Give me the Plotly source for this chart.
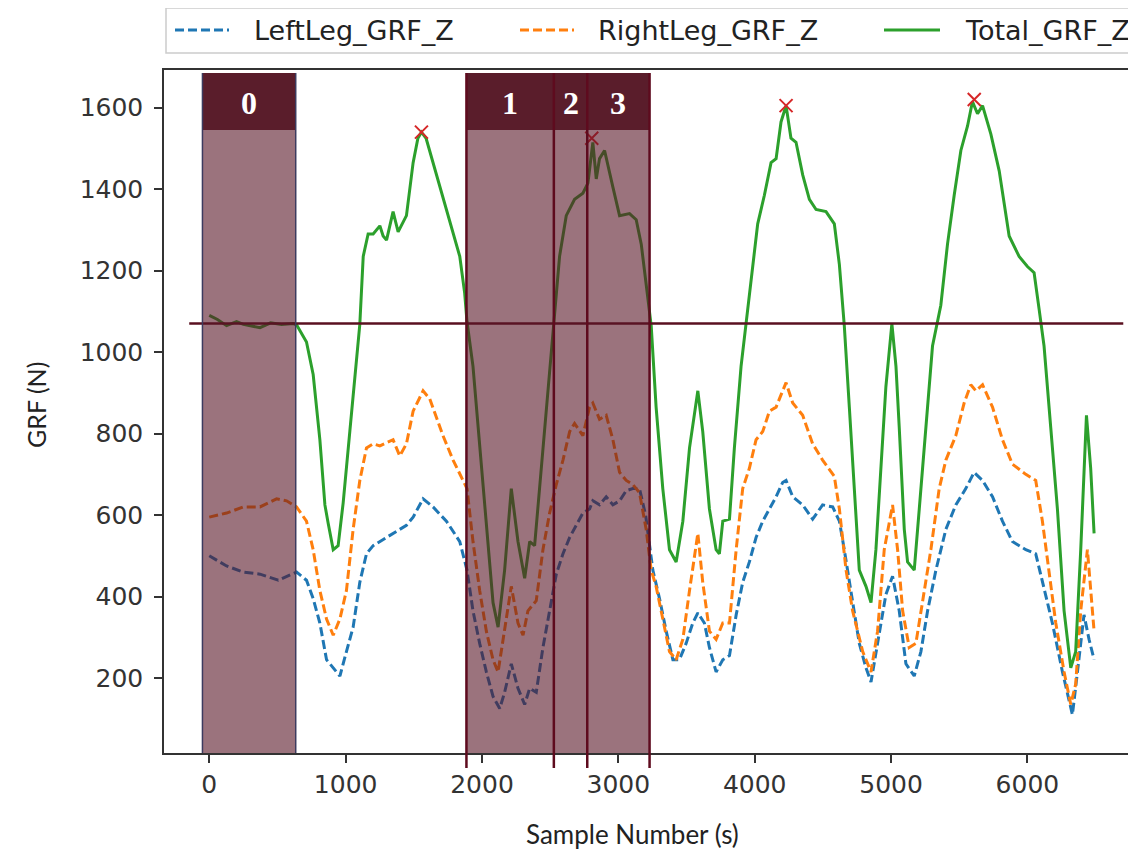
import plotly.graph_objects as go

# ---------------- data ----------------
total_x = [0, 60, 127, 200, 250, 372, 450, 530, 616, 640, 713, 762, 811, 848, 872, 909, 945, 982,
           1031, 1080, 1104, 1129, 1165, 1202, 1251, 1275, 1300, 1348, 1385, 1446, 1495, 1530, 1556,
           1590, 1641, 1739, 1837, 1873, 1890, 1934, 1983, 2032, 2081, 2118, 2166, 2215, 2264, 2313,
           2350, 2386, 2423, 2472, 2528, 2569, 2618, 2679, 2740, 2777, 2813, 2838, 2862, 2899, 2960,
           3009, 3082, 3131, 3168, 3204, 3241, 3277, 3326, 3375, 3424, 3473, 3522, 3583, 3619, 3668,
           3717, 3741, 3766, 3815, 3851, 3900, 3937, 3986, 4022, 4071, 4120, 4157, 4193, 4230, 4266,
           4303, 4352, 4401, 4450, 4523, 4584, 4621, 4657, 4694, 4730, 4767, 4816, 4853, 4889, 4926,
           4962, 5006, 5036, 5060, 5097, 5121, 5170, 5207, 5255, 5304, 5365, 5414, 5463, 5512, 5561,
           5597, 5634, 5671, 5732, 5793, 5866, 5939, 6000, 6049, 6086, 6122, 6171, 6220, 6269, 6318,
           6354, 6391, 6433, 6464, 6489]
total_y = [1090, 1080, 1065, 1075, 1068, 1060, 1072, 1068, 1070, 1067, 1025, 945, 785, 625, 580, 515, 525, 630,
           806, 981, 1068, 1235, 1290, 1290, 1310, 1285, 1275, 1345, 1295, 1335, 1465, 1525, 1540,
           1525, 1465, 1355, 1235, 1145, 1075, 965, 765, 565, 385, 325, 465, 665, 535, 445,
           535, 525, 665, 865, 1065, 1235, 1335, 1375, 1390, 1415, 1515, 1425, 1475, 1495, 1405,
           1335, 1340, 1325, 1265, 1165, 1065, 865, 665, 515, 485, 585, 765, 905, 805, 615,
           515, 505, 585, 590, 765, 965, 1075, 1215, 1315, 1385, 1465, 1475, 1565, 1605, 1525,
           1515, 1435, 1375, 1350, 1345, 1315, 1215, 1065, 865, 665, 465, 425, 385, 515, 715,
           915, 1070, 965, 815, 565, 485, 465, 615, 815, 1015, 1115, 1265, 1385, 1495, 1555,
           1615, 1585, 1605, 1535, 1445, 1285, 1235, 1210, 1195, 1105, 1015, 815, 615, 365, 225,
           265, 515, 845, 715, 555]

right_x = [0, 127, 250, 372, 494, 567, 640, 713, 762, 811, 860, 909, 958, 1006, 1055, 1104, 1153, 1202,
           1251, 1348, 1397, 1446, 1495, 1568, 1617, 1714, 1788, 1837, 1890, 1934, 1983, 2032, 2081,
           2118, 2166, 2215, 2264, 2301, 2337, 2398, 2447, 2496, 2545, 2594, 2643, 2679, 2740, 2789,
           2813, 2862, 2911, 2960, 3009, 3058, 3106, 3155, 3204, 3241, 3277, 3326, 3375, 3424, 3473,
           3522, 3583, 3619, 3668, 3717, 3766, 3815, 3864, 3912, 3961, 4010, 4059, 4108, 4157, 4193,
           4230, 4279, 4352, 4425, 4498, 4584, 4621, 4670, 4718, 4792, 4853, 4901, 4950, 5011, 5048,
           5085, 5133, 5182, 5231, 5292, 5353, 5402, 5475, 5536, 5585, 5622, 5671, 5744, 5817, 5890,
           5988, 6061, 6110, 6159, 6208, 6269, 6318, 6354, 6391, 6440, 6489]
right_y = [595, 605, 620, 620, 640, 635, 620, 585, 515, 415, 345, 305, 345, 415, 565, 685, 765, 775,
           770, 785, 745, 775, 855, 905, 885, 795, 735, 700, 665, 535, 415, 315, 245,
           215, 315, 425, 335, 305, 365, 390, 515, 605, 675, 735, 805, 825, 795, 865,
           875, 835, 845, 785, 705, 685, 675, 655, 565, 465, 425, 345, 265, 245, 295,
           415, 555, 435, 315, 295, 335, 335, 515, 665, 715, 785, 805, 855, 865, 895,
           925, 875, 845, 775, 735, 695, 615, 465, 365, 265, 215, 315, 515, 625, 515,
           365, 275, 285, 385, 515, 665, 735, 795, 875, 920, 905, 920, 865, 785, 725,
           700, 685, 585, 465, 335, 215, 135, 185, 365, 515, 315]

left_x = [0, 127, 250, 372, 506, 567, 640, 713, 762, 811, 860, 909, 958, 1006, 1055, 1104, 1153, 1202,
          1251, 1348, 1446, 1495, 1568, 1641, 1739, 1837, 1873, 1890, 1934, 1983, 2032, 2081, 2130,
          2166, 2215, 2264, 2313, 2350, 2398, 2447, 2496, 2545, 2594, 2643, 2691, 2740, 2789, 2813,
          2862, 2911, 2960, 3009, 3058, 3106, 3155, 3200, 3253, 3302, 3351, 3400, 3448, 3497, 3546,
          3583, 3631, 3668, 3717, 3766, 3815, 3864, 3912, 3961, 4010, 4059, 4108, 4157, 4205, 4230,
          4279, 4352, 4425, 4498, 4572, 4621, 4657, 4706, 4767, 4816, 4853, 4901, 4962, 5011, 5060,
          5109, 5170, 5219, 5268, 5329, 5402, 5475, 5548, 5609, 5671, 5744, 5817, 5890, 5988, 6061,
          6110, 6183, 6257, 6330, 6367, 6415, 6452, 6489]
left_y = [500, 475, 460, 455, 440, 450, 460, 440, 395, 335, 245, 225, 205, 265, 325, 435, 505, 525,
          535, 555, 575, 595, 640, 620, 585, 535, 485, 465, 365, 285, 215, 155, 125,
          165, 235, 175, 135, 175, 165, 275, 365, 455, 505, 545, 575, 605, 615, 635,
          625, 645, 625, 635, 660, 665, 665, 600, 465, 395, 315, 245, 245, 285, 335,
          360, 335, 275, 215, 245, 255, 355, 435, 485, 545, 585, 615, 645, 680, 685,
          645, 625, 590, 625, 620, 585, 515, 415, 285, 225, 190, 285, 405, 450, 365,
          235, 205, 265, 365, 465, 565, 625, 665, 705, 685, 645, 585, 535, 515, 505,
          435, 335, 215, 110, 215, 355, 295, 245]

peak_x = [1556, 2805, 4230, 5610]
peak_y = [1540, 1525, 1605, 1620]

threshold_y = 1070
threshold_x = [-147, 6703]

region0_edges = [-50, 634]
phase_edges = [1886, 2527, 2772, 3229]
region_labels = ["0", "1", "2", "3"]
header_y = [1545, 1685]

x_range = [-332, 6833]
y_range = [16, 1692.5]
x_ticks = [0, 1000, 2000, 3000, 4000, 5000, 6000]
y_ticks = [200, 400, 600, 800, 1000, 1200, 1400, 1600]

series_names = ["LeftLeg_GRF_Z", "RightLeg_GRF_Z", "Total_GRF_Z"]
series_colors = ["#1f77b4", "#ff7f0e", "#2ca02c"]
series_dash = ["9px,4px", "9px,4px", "solid"]

# ---------------- layout geometry ----------------
# the page body adds an 8px offset; screen positions are converted to figure positions
OFF = 8
W, H = 1136, 855
ML, MR, MT, MB = 164 - OFF, 3, 70 - OFF, 855 - (753 - OFF)
PW, PH = W - ML - MR, H - MT - MB


def px_x(px):
    return (px - OFF - ML) / PW


def px_y(py):
    return (H - MB - (py - OFF)) / PH


def data_to_paper_y(v):
    return (v - y_range[0]) / (y_range[1] - y_range[0])


fig = go.Figure()

for xs, ys, nm, col, dsh in zip([left_x, right_x, total_x], [left_y, right_y, total_y],
                                series_names, series_colors, series_dash):
    fig.add_trace(go.Scatter(x=xs, y=ys, mode="lines", name=nm, showlegend=False,
                             line=dict(color=col, width=3, dash=dsh)))
fig.add_trace(go.Scatter(x=peak_x, y=peak_y, mode="markers", showlegend=False,
                         marker=dict(symbol="x-thin", size=13, line=dict(color="#d62728", width=2))))
fig.add_trace(go.Scatter(x=threshold_x, y=[threshold_y, threshold_y], mode="lines", showlegend=False,
                         line=dict(color="#5a1020", width=2.5)))

FILL = "rgba(88,22,38,0.6)"
HEAD = "#5a1d2b"
EDGE0 = "#3c3b5f"
EDGE = "#5e0b1e"

shapes = []
# region 0
shapes.append(dict(type="rect", xref="x", yref="paper", x0=region0_edges[0], x1=region0_edges[1],
                   y0=0, y1=data_to_paper_y(header_y[0]),
                   fillcolor=FILL, line=dict(width=0), layer="above"))
shapes.append(dict(type="rect", xref="x", yref="y", x0=region0_edges[0], x1=region0_edges[1],
                   y0=header_y[0], y1=header_y[1], fillcolor=HEAD, line=dict(width=0), layer="above"))
for xe in region0_edges:
    shapes.append(dict(type="line", xref="x", yref="paper", x0=xe, x1=xe, y0=0,
                       y1=data_to_paper_y(header_y[1]),
                       line=dict(color=EDGE0, width=1.5), layer="above"))
# phases 1-3
shapes.append(dict(type="rect", xref="x", yref="paper", x0=phase_edges[0], x1=phase_edges[-1],
                   y0=0, y1=data_to_paper_y(header_y[0]),
                   fillcolor=FILL, line=dict(width=0), layer="above"))
shapes.append(dict(type="rect", xref="x", yref="y", x0=phase_edges[0], x1=phase_edges[-1],
                   y0=header_y[0], y1=header_y[1], fillcolor=HEAD, line=dict(width=0), layer="above"))
for xe in phase_edges:
    shapes.append(dict(type="line", xref="x", yref="paper", x0=xe, x1=xe, y0=-0.022,
                       y1=data_to_paper_y(header_y[1]),
                       line=dict(color=EDGE, width=2.5), layer="above"))

annotations = []
centers = [(region0_edges[0] + region0_edges[1]) / 2] + \
          [(phase_edges[i] + phase_edges[i + 1]) / 2 for i in range(3)]
for cx, lab in zip(centers, region_labels):
    annotations.append(dict(x=cx, y=(header_y[0] + header_y[1]) / 2 - 3, xref="x", yref="y",
                            text="<b>" + lab + "</b>", showarrow=False,
                            font=dict(family="Liberation Serif", size=32, color="white"),
                            xanchor="center", yanchor="middle"))

# axis titles
annotations.append(dict(x=px_x(36), y=px_y(405), xref="paper", yref="paper", text="GRF (N)",
                        textangle=-90, showarrow=False, xanchor="center", yanchor="middle",
                        font=dict(family="Lato", size=25, color="#222")))
annotations.append(dict(x=px_x(632), y=px_y(834), xref="paper", yref="paper", text="Sample Number (s)",
                        showarrow=False, xanchor="center", yanchor="middle",
                        font=dict(family="Lato", size=26, color="#222")))

# legend (drawn above the plot, running off the right edge like the reference)
shapes.append(dict(type="rect", xref="paper", yref="paper", x0=px_x(166), x1=px_x(1150),
                   y0=px_y(53), y1=px_y(8), line=dict(color="#cccccc", width=1.5),
                   fillcolor="white", layer="above"))
leg_line_px = [(175, 229), (520, 574), (884, 940)]
leg_text_px = [252, 596, 963]
for (a, b), tx, nm, col, dsh in zip(leg_line_px, leg_text_px, series_names, series_colors, series_dash):
    shapes.append(dict(type="line", xref="paper", yref="paper", x0=px_x(a), x1=px_x(b),
                       y0=px_y(30), y1=px_y(30), line=dict(color=col, width=3, dash=dsh),
                       layer="above"))
    annotations.append(dict(x=px_x(tx), y=px_y(31), xref="paper", yref="paper", text=nm,
                            showarrow=False, xanchor="left", yanchor="middle",
                            font=dict(family="DejaVu Sans", size=27, color="#222")))

fig.update_layout(
    width=W, height=H,
    margin=dict(l=ML, r=MR, t=MT, b=MB, autoexpand=False),
    paper_bgcolor="white", plot_bgcolor="white",
    shapes=shapes, annotations=annotations,
    showlegend=False,
)

fig.update_xaxes(range=x_range, tickvals=x_ticks, showgrid=False, zeroline=False,
                 showline=True, linecolor="#333", linewidth=1.5, mirror=True,
                 ticks="outside", ticklen=8, tickwidth=1.5, tickcolor="#333",
                 tickfont=dict(family="DejaVu Sans", size=25, color="#333"))
fig.update_yaxes(range=y_range, tickvals=y_ticks, showgrid=False, zeroline=False,
                 showline=True, linecolor="#333", linewidth=1.5, mirror=False,
                 ticks="outside", ticklen=8, tickwidth=1.5, tickcolor="#333",
                 ticklabelstandoff=6,
                 tickfont=dict(family="DejaVu Sans", size=25, color="#333"))

fig.write_html("out.html")
